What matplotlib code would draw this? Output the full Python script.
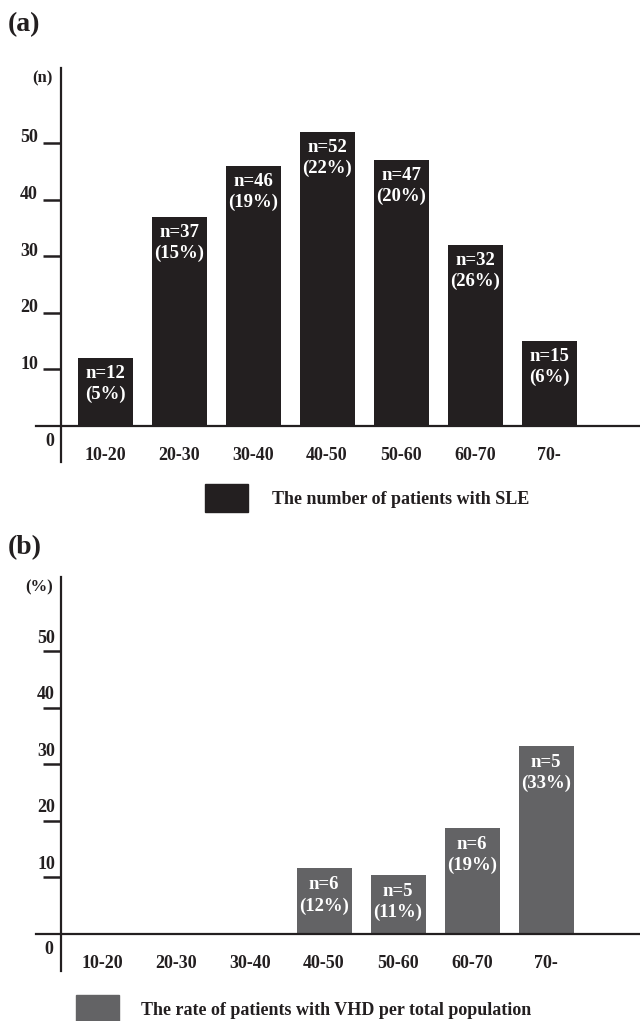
import matplotlib
matplotlib.use("Agg")
import matplotlib.pyplot as plt
from matplotlib.patches import Rectangle
import numpy as np

# ── data ────────────────────────────────────────────────────────────────
age_groups = ['10-20', '20-30', '30-40', '40-50', '50-60', '60-70', '70-']

sle_n = [12, 37, 46, 52, 47, 32, 15]
sle_pct = [5, 15, 19, 22, 20, 26, 6]

vhd_idx = [3, 4, 5, 6]                 # age groups that have a bar in (b)
vhd_rate = [11.6, 10.5, 18.7, 33.2]
vhd_n = [6, 5, 6, 5]
vhd_pct = [12, 11, 19, 33]

yticks = [10, 20, 30, 40, 50]

# ── style ───────────────────────────────────────────────────────────────
INK = '#231f20'
GREY = '#636365'
plt.rcParams.update({
    'font.family': ['Liberation Serif', 'DejaVu Serif'],
    'font.weight': 'bold',
    'font.size': 13,
})

W, H = 640, 1021
fig = plt.figure(figsize=(W / 100, H / 100), dpi=100)
fig.patch.set_facecolor('white')

PX_PER_UNIT = 5.66   # vertical pixels per y unit
STEP = 74.0          # horizontal pixels between groups
BAR_W = 55 / STEP


def make_panel(top, base, yax_bot, x0):
    """Axes spanning x 36..640 px; y=0 at pixel `base`; group 0 at pixel x0."""
    left, right, bottom = 36, 640, yax_bot + 10
    ax = fig.add_axes([left / W, 1 - bottom / H, (right - left) / W, (bottom - top) / H])
    ax.set_xlim((left - x0) / STEP, (right - x0) / STEP)
    ax.set_ylim(-(bottom - base) / PX_PER_UNIT, (base - top) / PX_PER_UNIT)
    ax.patch.set_visible(False)
    for s in ['top', 'right']:
        ax.spines[s].set_visible(False)
    xa = (61 - x0) / STEP
    ax.spines['left'].set_position(('data', xa))
    ax.spines['left'].set_bounds(-(yax_bot - base) / PX_PER_UNIT, (base - top - 8) / PX_PER_UNIT)
    ax.spines['bottom'].set_position(('data', 0))
    for s in ['left', 'bottom']:
        ax.spines[s].set_color(INK)
        ax.spines[s].set_linewidth(1.6)
    ax.set_yticks(yticks)
    ax.tick_params(axis='y', direction='out', length=13, width=1.8, color=INK,
                   labelleft=False)
    ax.set_xticks(range(len(age_groups)))
    ax.set_xticklabels(age_groups, color=INK, fontweight='bold')
    ax.tick_params(axis='x', length=0, pad=15)
    return ax, xa


# ── (a) number of SLE patients ─────────────────────────────────────────
fig.text(8 / W, 1 - 25 / H, '(a)', fontsize=20, fontweight='bold', color=INK,
         ha='left', va='center')
ax1, xa1 = make_panel(top=60, base=426, yax_bot=462, x0=105)
ax1.bar(range(len(age_groups)), sle_n, width=BAR_W, color=INK, zorder=1)
for i, (n, p) in enumerate(zip(sle_n, sle_pct)):
    ax1.annotate(f'n={n}\n({p}%)', xy=(i, n), xytext=(0, -7), textcoords='offset pixels',
                 ha='center', va='top', color='white', fontweight='bold',
                 fontsize=13.5, linespacing=1.3)
for v in yticks:
    ax1.annotate(str(v), xy=(xa1, v), xytext=(-23, 5), textcoords='offset pixels',
                 ha='right', va='center', color=INK)
ax1.annotate('0', xy=(xa1, 0), xytext=(-11, -16), textcoords='offset pixels',
             ha='center', va='center', color=INK)
ax1.annotate('(n)', xy=(xa1, 0), xytext=(-19, 426 - 78), textcoords='offset pixels',
             ha='center', va='center', color=INK, fontsize=12)

fig.patches.append(Rectangle((205 / W, 1 - 512 / H), 43 / W, 28 / H,
                             transform=fig.transFigure, color=INK))
fig.text(272 / W, 1 - 499 / H, 'The number of patients with SLE', color=INK,
         fontsize=13, fontweight='bold', ha='left', va='center')

# ── (b) rate of VHD patients ────────────────────────────────────────────
fig.text(8 / W, 1 - 548 / H, '(b)', fontsize=20, fontweight='bold', color=INK,
         ha='left', va='center')
ax2, xa2 = make_panel(top=569, base=934, yax_bot=971, x0=102)
ax2.bar(vhd_idx, vhd_rate, width=BAR_W, color=GREY, zorder=1)
for i, r, n, p in zip(vhd_idx, vhd_rate, vhd_n, vhd_pct):
    ax2.annotate(f'n={n}\n({p}%)', xy=(i, r), xytext=(0, -8), textcoords='offset pixels',
                 ha='center', va='top', color='white', fontweight='bold',
                 fontsize=13.5, linespacing=1.3)
for v in yticks:
    ax2.annotate(str(v), xy=(xa2, v), xytext=(-15, 13), textcoords='offset pixels',
                 ha='center', va='center', color=INK)
ax2.annotate('0', xy=(xa2, 0), xytext=(-12, -15), textcoords='offset pixels',
             ha='center', va='center', color=INK)
ax2.annotate('(%)', xy=(xa2, 0), xytext=(-22, 934 - 587), textcoords='offset pixels',
             ha='center', va='center', color=INK, fontsize=12)

fig.patches.append(Rectangle((76 / W, 1 - 1021 / H), 43 / W, 26 / H,
                             transform=fig.transFigure, color=GREY))
fig.text(141 / W, 1 - 1010 / H, 'The rate of patients with VHD per total population',
         color=INK, fontsize=13, fontweight='bold', ha='left', va='center')

fig.savefig('out.png', dpi=100, facecolor='white')
